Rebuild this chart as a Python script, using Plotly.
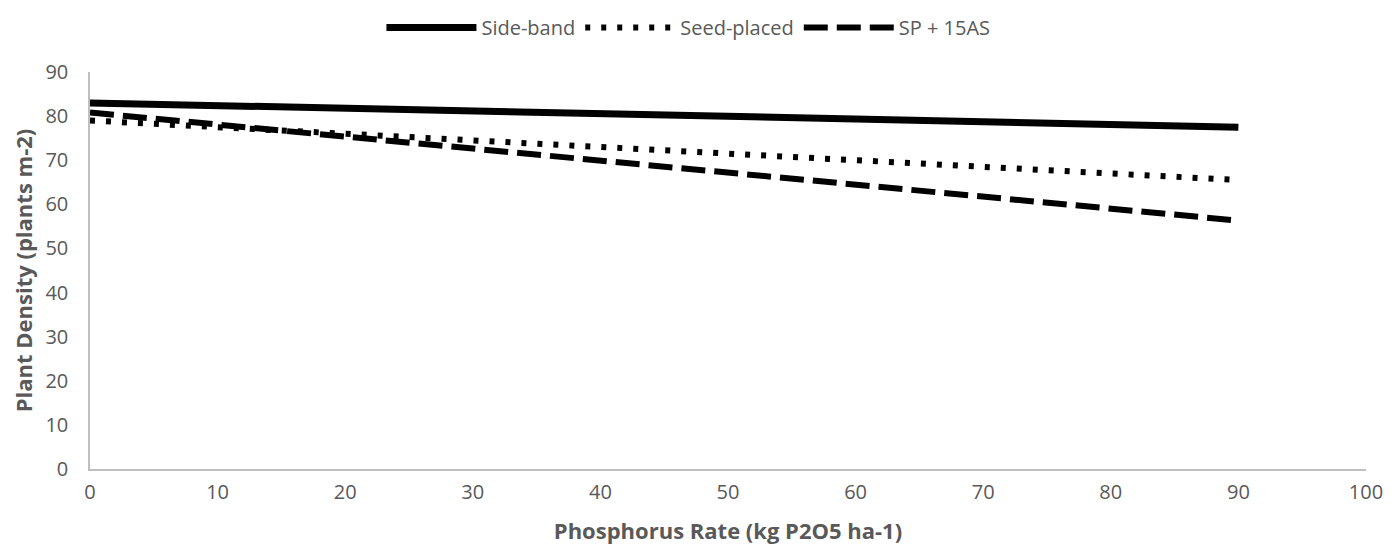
import plotly.graph_objects as go

x_rate = [0, 90]
side_band = [83.0, 77.5]
seed_placed = [79.0, 65.5]
sp_15as = [80.8, 56.3]
x_ticks = [0, 10, 20, 30, 40, 50, 60, 70, 80, 90, 100]
y_ticks = [0, 10, 20, 30, 40, 50, 60, 70, 80, 90]

fig = go.Figure()
fig.add_trace(go.Scatter(x=x_rate, y=side_band, mode="lines", name="Side-band",
                         line=dict(color="black", width=7)))
fig.add_trace(go.Scatter(x=x_rate, y=seed_placed, mode="lines", name="Seed-placed",
                         line=dict(color="black", width=6, dash="5px,11px")))
fig.add_trace(go.Scatter(x=x_rate, y=sp_15as, mode="lines", name="SP + 15AS",
                         line=dict(color="black", width=6, dash="24px,9px")))

fig.update_layout(
    width=1390, height=547,
    margin=dict(l=82, r=32, t=64, b=86),
    paper_bgcolor="white", plot_bgcolor="white",
    font=dict(family="Open Sans", size=20, color="#595959"),
    showlegend=True,
    legend=dict(orientation="h", x=0.469, xanchor="center", y=1.0, yanchor="top",
                yref="container", font=dict(size=20, color="#595959"),
                itemwidth=90, tracegroupgap=0),
    xaxis=dict(range=[0, 100], tickvals=x_ticks, showgrid=False, zeroline=False,
               showline=True, linecolor="#bfbfbf", linewidth=1.5, ticks="",
               automargin=False,
               tickfont=dict(size=20, color="#595959"), ticklabelstandoff=4,
               title=dict(text="<b>Phosphorus Rate (kg P2O5 ha-1)</b>", standoff=20,
                          font=dict(size=22, color="#595959"))),
    yaxis=dict(range=[0, 90], tickvals=y_ticks, showgrid=False, zeroline=False,
               showline=True, linecolor="#bfbfbf", linewidth=1.5, ticks="",
               automargin=False,
               tickfont=dict(size=20, color="#595959"), ticklabelstandoff=16,
               title=dict(text="<b>Plant Density (plants m-2)</b>", standoff=16,
                          font=dict(size=22, color="#595959"))),
)
fig.write_html("out.html")
